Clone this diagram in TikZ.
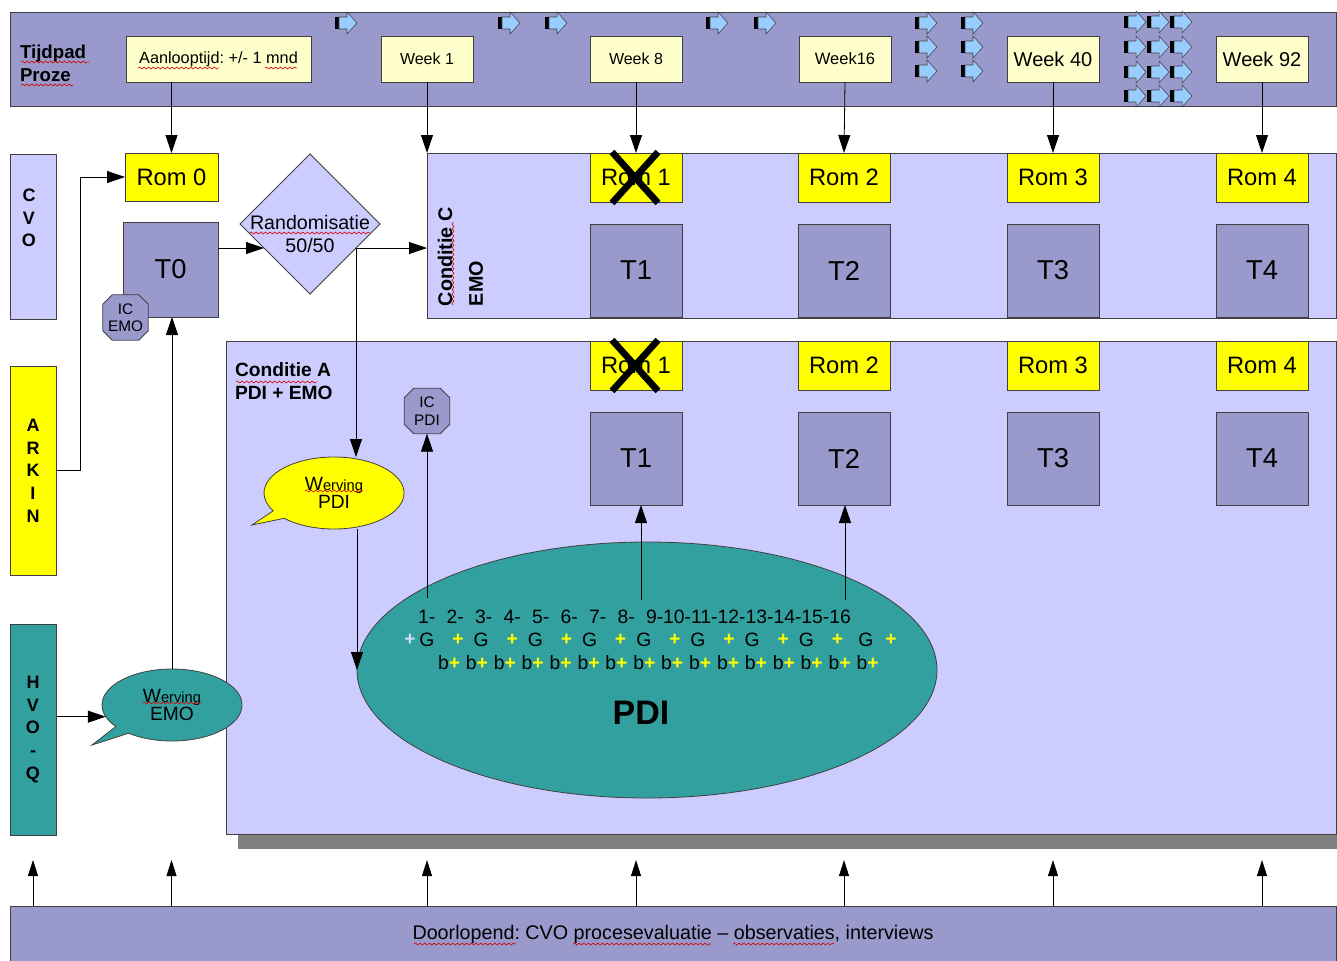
\documentclass[tikz,border=0pt]{standalone}
\usepackage{fontspec}
\setmainfont{Liberation Sans}
\usetikzlibrary{arrows.meta,shapes.geometric,shapes.callouts,shapes.misc,shadows,calc,decorations.pathmorphing}
\definecolor{lavd}{HTML}{9999CC}
\definecolor{lavl}{HTML}{CCCCFF}
\definecolor{ylight}{HTML}{FFFFCC}
\definecolor{yel}{HTML}{FFFF00}
\definecolor{tealx}{HTML}{33A0A0}
\definecolor{ablue}{HTML}{99CCFF}
\definecolor{edgec}{HTML}{404040}
\definecolor{shd}{HTML}{808080}
\definecolor{plusl}{HTML}{CCDDFF}
\newcommand{\myfs}[2]{\fontsize{#1}{#2}\selectfont}
\begin{document}
\frenchspacing
\begin{tikzpicture}[x=0.75pt,y=-0.75pt,
  every node/.style={inner sep=0pt, outer sep=0pt},
  bx/.style={draw=edgec, line width=0.6pt},
  rbox/.style n args={4}{minimum width={(#3-(#1))*0.75pt}, minimum height={(#4-(#2))*0.75pt}, at={({(#1+#3)/2},{(#2+#4)/2})}},
  arr/.style={draw=black, line width=0.6pt, -{Triangle[length=13.5pt,width=9pt]}},
  sarr/.style={draw=black, line width=0.6pt, -{Triangle[length=12pt,width=7.5pt]}},
  spell/.style={draw=red!85!black, line width=0.45pt, decorate, decoration={snake, amplitude=0.7pt, segment length=3.5pt}},
  xcross/.style={draw=black, line width=5pt},
  octa/.style={chamfered rectangle, chamfered rectangle xsep=3.5pt, chamfered rectangle ysep=3.5pt, minimum width=34pt, minimum height=34pt, bx, fill=lavd, align=center, font={\myfs{11.5}{13}}},
  romf/.style={font={\myfs{17.8}{20}}},
  tf/.style={font={\myfs{20.5}{24}}},
  numf/.style={font={\myfs{14.5}{17}}},
  barrow/.pic={
    \fill[black] (-11,-6) rectangle (-7,6);
    \filldraw[fill=ablue, draw=edgec, line width=0.4pt] (-7,-6) -- (1,-6) -- (1,-11) -- (11,0) -- (1,11) -- (1,6) -- (-7,6) -- cycle;
  }
]
\useasboundingbox (0,0) rectangle (1337,960);
\clip (0,0) rectangle (1337,960);
\fill[white] (0,0) rectangle (1337,960);

% ---------- top bar ----------
\node[bx, fill=lavd, rbox={10}{12}{1336}{106}] (top) {};
\node[anchor=north west, align=left, font={\bfseries\myfs{14}{17}}] (tij) at (20,45) {Tijdpad\\Proze};
\node[bx, fill=ylight, rbox={126}{36}{311}{82}, font={\myfs{12.2}{14}}] (aan) {Aanlooptijd: +/- 1 mnd};
\node[bx, fill=ylight, rbox={381}{36}{473}{82}, font={\myfs{12}{14}}] (W1) {Week 1};
\node[bx, fill=ylight, rbox={590}{36}{682}{82}, font={\myfs{12}{14}}] (W8) {Week 8};
\node[bx, fill=ylight, rbox={799}{36}{891}{82}, font={\myfs{12.4}{14}}] (W16) {Week16};
\node[bx, fill=ylight, rbox={1007}{36}{1099}{82}, font={\myfs{15}{17}}] (W40) {Week 40};
\node[bx, fill=ylight, rbox={1216}{36}{1308}{82}, font={\myfs{15}{17}}] (W92) {Week 92};

\foreach \x in {346,509,556,717,765} \pic at (\x,23) {barrow};
\foreach \x in {926,972} \foreach \y in {23,47,71} \pic at (\x,\y) {barrow};
\foreach \x in {1135,1158,1181} \foreach \y in {22,47,72,96} \pic at (\x,\y) {barrow};

% ---------- left bars ----------
\node[bx, fill=lavl, rbox={10}{154}{56}{319}] (CVO) {};
\node[font={\bfseries\myfs{13.5}{17}}, align=center] (CVOt) at (29,218) {C\\V\\O};
\node[bx, fill=yel, rbox={10}{366}{56}{575}, font={\bfseries\myfs{13.5}{17}}, align=center] (ARK) {A\\R\\K\\I\\N};
\node[bx, fill=tealx, rbox={10}{624}{56}{835}, font={\bfseries\myfs{13.5}{17}}, align=center] (HVO) {H\\V\\O\\-\\Q};

% ---------- start block ----------
\node[bx, fill=yel, rbox={125}{153}{218}{201}, romf] (Rom0) {Rom 0};
\node[bx, fill=lavd, rbox={123}{222}{218}{317}, tf] (T0) {T0};
\node[octa] (ICEMO) at (125.5,317.5) {IC\\EMO};
\node[diamond, bx, fill=lavl, minimum width=105pt, minimum height=105pt] (rand) at (310,224) {};
\node[align=center, font={\myfs{14.7}{17}}] (randt) at (310,234) {Randomisatie\\50/50};

% ---------- Conditie C ----------
\node[bx, fill=lavl, rbox={427}{153}{1336}{318}] (CC) {};
\node[rotate=90, anchor=west, font={\bfseries\myfs{14.8}{17}}] (CCl) at (445,306) {Conditie C};
\node[rotate=90, anchor=west, font={\bfseries\myfs{14.8}{17}}] (CCe) at (476,306) {EMO};

% ---------- Conditie A ----------
\node[bx, fill=lavl, rbox={226}{341}{1336}{834}, general shadow={fill=shd, shadow xshift=9pt, shadow yshift=-11.25pt}] (CA) {};
\node[anchor=north west, align=left, font={\bfseries\myfs{14.4}{17}}] (CAl) at (235,363) {Conditie A\\PDI + EMO};

\foreach \i/\xl in {1/590,2/798,3/1007,4/1216}{
  \node[bx, fill=yel, rbox={\xl}{153}{\xl+92}{202}, romf] (RomC\i) {Rom \i};
  \node[bx, fill=lavd, rbox={\xl}{224}{\xl+92}{317}, tf] (TC\i) {T\i};
  \node[bx, fill=yel, rbox={\xl}{341}{\xl+92}{390}, romf] (RomA\i) {Rom \i};
  \node[bx, fill=lavd, rbox={\xl}{412}{\xl+92}{505}, tf] (TA\i) {T\i};
}
\foreach \r in {RomC1,RomA1}{
  \draw[xcross] ($(\r.north west)+(22,-1)$) -- ($(\r.south east)+(-24,1)$);
  \draw[xcross] ($(\r.north east)+(-24,-1)$) -- ($(\r.south west)+(22,1)$);
}

\node[octa] (ICPDI) at (427,411) {IC\\PDI};
\node[ellipse callout, callout absolute pointer={(252,525)}, bx, fill=yel, minimum width=105pt, minimum height=54pt, align=center] (WPDI) at (334,493)
  {{\myfs{14.4}{16}W}{\myfs{11}{16}erving}\\{\myfs{14.4}{16}PDI}};
\node[ellipse callout, callout absolute pointer={(92,745)}, bx, fill=tealx, minimum width=105pt, minimum height=54pt, align=center] (WEMO) at (172,705)
  {{\myfs{14.4}{16}W}{\myfs{11}{16}erving}\\{\myfs{14.4}{16}EMO}};

% ---------- PDI ellipse ----------
\node[ellipse, bx, fill=tealx, minimum width=435pt, minimum height=192pt] (PDI) at (647,670) {};
\foreach \n [count=\k from 0] in {1,...,8}
  \node[anchor=west, numf] (num\n) at (418+28.5*\k,617) {\n-};
\node[anchor=west, numf] (num9) at (646,617) {9-10-11-12-13-14-15-16};
\node[numf, text=plusl] (pl0) at (410,640) {\textbf{+}};
\foreach \k in {0,...,7}{
  \node[numf] (G\k) at (427+54.2*\k,640) {G};
  \node[numf, text=yel] (P\k) at (458+54.2*\k,640) {\textbf{+}};
}
\node[numf] (G8) at (866,640) {G};
\node[numf, text=yel] (P8) at (891,640) {\textbf{+}};
\foreach \k in {0,...,15}
  \node[anchor=west, numf] (b\k) at (438+27.9*\k,663) {b\textcolor{yel}{\textbf{+}}};
\node[font={\bfseries\myfs{25.5}{30}}] (PDIt) at (641,713) {PDI};

% ---------- bottom bar ----------
\node[bx, fill=lavd, rbox={10}{906}{1336}{962}, font={\myfs{14.8}{17}}] (Door) {Doorlopend: CVO procesevaluatie – observaties, interviews};

% ---------- connectors ----------
\draw[arr] (Rom0.north |- aan.south) -- (Rom0.north);
\draw[arr] (W1.south) -- (W1.south |- CC.north);
\draw[arr] (W8.south) -- (RomC1.north);
\draw[arr] (W16.south) -- (RomC2.north);
\draw[arr] (W40.south) -- (RomC3.north);
\draw[arr] (W92.south) -- (RomC4.north);
\draw[arr] (ARK.east) -- ++(24,0) |- (Rom0.west);
\coordinate (rL) at ($(rand.west)!0.343!(rand.south)$);
\coordinate (rR) at ($(rand.east)!0.343!(rand.south)$);
\draw[arr] (T0.east |- rL) -- (rL);
\draw[arr] (rR) -- (rR -| CC.west);
\draw[arr] (rR) -- (rR |- WPDI.north);
\draw[arr] (WEMO.north) -- (WEMO.north |- T0.south);
\draw[arr] (HVO.east |- WEMO.190) -- (WEMO.190);
\draw[arr] (PDI.west |- WPDI.south) -- (PDI.west);
\coordinate (pc) at (427,598);
\coordinate (pd) at (641,600);
\coordinate (pe) at (845,600);
\draw[arr] (pc) -- (pc |- ICPDI.south);
\draw[arr] (pd) -- (pd |- TA1.south);
\draw[arr] (pe) -- (pe |- TA2.south);
\foreach \n in {CVO,Rom0,W1,TA1,TA2,TA3,TA4}
  \draw[sarr] (\n.center |- Door.north) -- ++(0,-46);

% ---------- spell-check underlines ----------
\draw[spell] (21,62) -- (89,62);
\draw[spell] (21,85) -- (73,85);
\draw[spell] (138,68) -- (219,68);
\draw[spell] (265,68) -- (297,68);
\draw[spell] (250,233) -- (370,233);
\draw[spell] (453,305) -- (453,222);
\draw[spell] (236,382) -- (317,382);
\draw[spell] (305,491) -- (363,491);
\draw[spell] (143,703) -- (201,703);
\draw[spell] (414,944) -- (516,944);
\draw[spell] (573,944) -- (711,944);
\draw[spell] (733,944) -- (834,944);
\end{tikzpicture}
\end{document}
